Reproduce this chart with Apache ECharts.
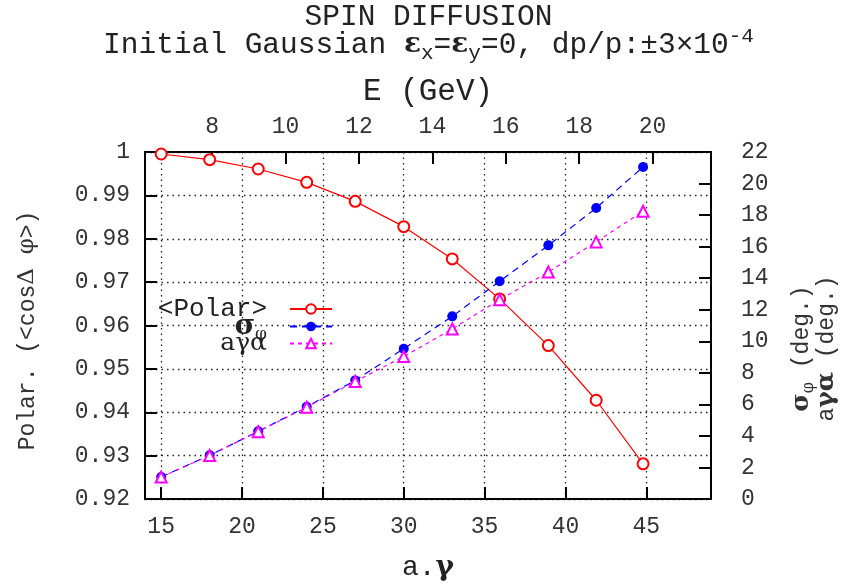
<!DOCTYPE html>
<html>
<head>
<meta charset="utf-8">
<script src="https://cdn.jsdelivr.net/npm/echarts@6/dist/echarts.min.js"></script>
<style>
  html,body{margin:0;padding:0;background:#fff}
  #spin{width:857px;height:585px}
</style>
</head>
<body>
<div id="spin"></div>
<script>
// a.gamma of each tracked point (bottom axis)
var aGamma = [15, 18, 21, 24, 27, 30, 33, 35.93, 38.94, 41.9, 44.8]
// <cos delta phi>, left axis
var polar = [0.99954, 0.99823, 0.99608, 0.9930, 0.98862, 0.98279, 0.97535, 0.96613, 0.95537, 0.94277, 0.92811]
// sigma_phi (deg.), right axis
var sigmaPhi = [1.40, 2.77, 4.29, 5.85, 7.52, 9.53, 11.58, 13.80, 16.08, 18.45, 21.05]
// a gamma alpha (deg.), right axis
var aGammaAlpha = [1.39, 2.76, 4.27, 5.82, 7.45, 9.03, 10.78, 12.64, 14.39, 16.30, 18.24]

var bottomTicks = [15, 20, 25, 30, 35, 40, 45]
var energyTicks = [8, 10, 12, 14, 16, 18, 20]
var GEV_PER_AG = 0.440648   // E = a.gamma * 0.440648 GeV

var mono = 'Liberation Mono'
var sym = 'DejaVu Serif'

function pairs(xs, ys){
  return xs.map(function(x, i){ return [x, ys[i]] })
}

var chart = echarts.init(document.getElementById('spin'))
var frame = {show: true, lineStyle: {color: '#000', width: 2}}
var tick = {show: true, inside: true, length: 12, lineStyle: {color: '#000', width: 2}}
var dotted = {show: true, lineStyle: {color: '#222', width: 1.3, type: [1.5, 4]}}
var lbl = {color: '#333', fontFamily: mono, fontSize: 23}

var option = {
  animation: false,
  title: {
    text: 'SPIN DIFFUSION\nInitial Gaussian {g|ε}{s|x}={g|ε}{s|y}=0, dp/p:±3×10{p|-4}',
    left: 'center', top: -2,
    textStyle: {
      fontFamily: mono, fontSize: 29.5, fontWeight: 'normal', color: '#222', lineHeight: 28,
      rich: {
        g: {fontFamily: sym, fontSize: 28, fontWeight: 'bold', color: '#222', lineHeight: 28},
        s: {fontFamily: mono, fontSize: 21, color: '#222', padding: [16, 0, 0, 0], lineHeight: 28},
        p: {fontFamily: mono, fontSize: 21, color: '#222', padding: [0, 0, 18, 0], lineHeight: 28}
      }
    }
  },
  grid: {left: 145, right: 146, top: 152, bottom: 86, outerBoundsMode: 'none'},
  legend: {
    orient: 'vertical', left: 150, top: 291, align: 'right',
    itemWidth: 42, itemHeight: 12, itemGap: -12,
    textStyle: {
      fontFamily: mono, fontSize: 26, color: '#222', width: 112, height: 18, align: 'right',
      lineHeight: 18, padding: [0, 18, 0, 0],
      rich: {
        g: {fontFamily: sym, fontSize: 28, fontWeight: 'bold', color: '#222', lineHeight: 18},
        s: {fontFamily: sym, fontSize: 17, color: '#222', padding: [16, 0, 0, 0], lineHeight: 18},
        a: {fontFamily: sym, fontSize: 25, color: '#222', lineHeight: 18}
      }
    },
    formatter: function(name){
      if (name === 'sigma') return '{g|σ}{s|φ}'
      if (name === 'agalpha') return '{a|aγα}'
      return '<Polar>'
    },
    data: ['polar', 'sigma', 'agalpha']
  },
  xAxis: [{
    type: 'value', min: 14, max: 49, position: 'bottom',
    name: 'a.{g|γ}', nameLocation: 'middle', nameGap: 55,
    nameTextStyle: {fontFamily: mono, fontSize: 28, color: '#222',
      rich: {g: {fontFamily: sym, fontSize: 28, fontWeight: 'bold', color: '#222'}}},
    axisLine: frame,
    axisTick: Object.assign({customValues: bottomTicks}, tick),
    axisLabel: Object.assign({customValues: bottomTicks, margin: 16}, lbl),
    splitLine: Object.assign({customValues: bottomTicks}, dotted)
  }, {
    type: 'value', min: 14 * GEV_PER_AG, max: 49 * GEV_PER_AG, position: 'top',
    name: 'E (GeV)', nameLocation: 'middle', nameGap: 45,
    nameTextStyle: {fontFamily: mono, fontSize: 31, color: '#222'},
    axisLine: frame,
    axisTick: Object.assign({customValues: energyTicks}, tick),
    axisLabel: Object.assign({customValues: energyTicks, margin: 14}, lbl),
    splitLine: {show: false}
  }],
  yAxis: [{
    type: 'value', min: 0.92, max: 1, interval: 0.01, position: 'left',
    name: 'Polar. (<cos{g|Δ} {g|φ}>)', nameLocation: 'middle', nameGap: 106, nameRotate: 90,
    nameTextStyle: {fontFamily: mono, fontSize: 23, color: '#333', padding: [0, 10, 0, 0],
      rich: {g: {fontFamily: sym, fontSize: 23, color: '#333'}}},
    axisLine: frame, axisTick: tick,
    axisLabel: Object.assign({margin: 15}, lbl),
    splitLine: dotted
  }, {
    type: 'value', min: 0, max: 22, interval: 2, position: 'right',
    name: '{g|σ}{s|φ} (deg.)\na{g|γα} (deg.)', nameLocation: 'middle', nameGap: 78, nameRotate: 90,
    nameTextStyle: {fontFamily: mono, fontSize: 23, color: '#333', lineHeight: 25,
      padding: [0, 46, 0, 0],
      rich: {
        g: {fontFamily: sym, fontSize: 25, fontWeight: 'bold', color: '#333', lineHeight: 25},
        s: {fontFamily: sym, fontSize: 16, color: '#333', padding: [14, 0, 0, 0], lineHeight: 25}
      }},
    axisLine: frame, axisTick: tick,
    axisLabel: Object.assign({margin: 30}, lbl),
    splitLine: {show: false}
  }],
  series: [{
    name: 'polar', type: 'line', xAxisIndex: 0, yAxisIndex: 0,
    data: pairs(aGamma, polar),
    symbol: 'emptyCircle', symbolSize: 11,
    lineStyle: {color: '#ff0000', width: 1.2},
    itemStyle: {color: '#ff0000', borderWidth: 1.3}
  }, {
    name: 'sigma', type: 'line', xAxisIndex: 0, yAxisIndex: 1,
    data: pairs(aGamma, sigmaPhi),
    symbol: 'circle', symbolSize: 10,
    lineStyle: {color: '#0000ff', width: 1.2, type: [7, 5]},
    itemStyle: {color: '#0000ff'}
  }, {
    name: 'agalpha', type: 'line', xAxisIndex: 0, yAxisIndex: 1,
    data: pairs(aGamma, aGammaAlpha),
    symbol: 'emptyTriangle', symbolSize: 11,
    lineStyle: {color: '#ff00ff', width: 1.2, type: [4, 4]},
    itemStyle: {color: '#ff00ff', borderWidth: 1.3}
  }]
}
chart.setOption(option)
</script>
</body>
</html>
